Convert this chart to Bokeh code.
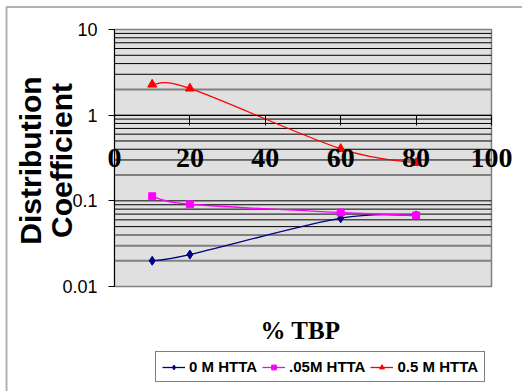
import numpy as np
from bokeh.plotting import figure
from bokeh.models import (Range1d, FixedTicker, Legend, LegendItem, LinearAxis,
                          LogAxis, CustomJSTickFormatter, Label, BoxAnnotation)
from bokeh.embed import file_html
from bokeh.resources import INLINE

# ---- data ----
tbp = [10, 20, 60, 80]
d_0M = [0.0200, 0.0236, 0.0627, 0.0675]
d_005M = [0.113, 0.0912, 0.0731, 0.0675]
d_05M = [2.28, 2.05, 0.405, 0.278]
series_names = ["0 M HTTA", ".05M HTTA", "0.5 M HTTA"]
series_values = [d_0M, d_005M, d_05M]
colors = ["#000080", "#FF00FF", "#FF0000"]
markers = ["diamond", "square", "triangle"]
marker_sizes = [9, 7, 9]
x_ticks = [0, 20, 40, 60, 80, 100]
y_ticks = [0.01, 0.1, 1, 10]
y_minor = [m * 10.0 ** e for e in (-2, -1, 0) for m in range(2, 10)]
gray_grid = [2, 0.2, 0.04, 0.03, 0.02]

# ---- layout (pixels inside the canvas) ----
W, H = 522, 391
FW, FH = W, H                      # frame fills the canvas
X0_PX, X100_PX = 114, 491          # where x = 0 and x = 100 fall
Y10_PX, Y001_PX = 29, 286          # where y = 10 and y = 0.01 fall (from top)
ppu = (X100_PX - X0_PX) / (x_ticks[-1] - x_ticks[0])
ppd = (Y001_PX - Y10_PX) / (np.log10(y_ticks[-1]) - np.log10(y_ticks[0]))
x_rng = Range1d(x_ticks[0] - X0_PX / ppu, x_ticks[0] + (FW - X0_PX) / ppu)
y_rng = Range1d(10 ** (np.log10(y_ticks[0]) - (FH - Y001_PX) / ppd),
                10 ** (np.log10(y_ticks[-1]) + Y10_PX / ppd))

p = figure(width=W, height=H, x_range=x_rng, y_range=y_rng, y_axis_type="log",
           x_axis_location=None, y_axis_location=None,
           output_backend="svg", toolbar_location=None,
           min_border_left=0, min_border_right=0, min_border_top=0,
           min_border_bottom=0)
p.background_fill_color = "white"
p.border_fill_color = "white"
p.outline_line_color = None
p.grid.visible = False

# outer chart-area frame (its right and bottom sides fall outside the picture)
p.add_layout(BoxAnnotation(left=6, right=FW + 20, bottom=-20, top=FH - 6.5,
                           left_units="screen", right_units="screen",
                           bottom_units="screen", top_units="screen",
                           fill_alpha=0, line_color="black", line_width=2,
                           level="underlay"))

# plot area
p.quad(left=x_ticks[0], right=x_ticks[-1], bottom=y_ticks[0], top=y_ticks[-1],
       fill_color="#e0e0e0", line_color="#808080", line_width=1.5)
black_lines = [v for v in y_minor + y_ticks[1:-1] if v not in gray_grid]
p.segment(x0=x_ticks[0], x1=x_ticks[-1], y0=black_lines, y1=black_lines,
          line_color="black", line_width=1)
p.segment(x0=x_ticks[0], x1=x_ticks[-1], y0=gray_grid, y1=gray_grid,
          line_color="#808080", line_width=2)

# y axis
yax = LogAxis(fixed_location=x_ticks[0], bounds=(y_ticks[0], y_ticks[-1]),
              ticker=FixedTicker(ticks=y_ticks),
              formatter=CustomJSTickFormatter(code="return tick.toString();"),
              major_tick_out=6, major_tick_in=0, minor_tick_out=0, minor_tick_in=0,
              axis_line_color="black", major_tick_line_color="black",
              major_label_standoff=11, major_label_text_font="Liberation Sans",
              major_label_text_font_size="18px", major_label_text_color="black")
p.add_layout(yax, "left")

# x axis crossing at y = 1
xax = LinearAxis(fixed_location=1, bounds=(x_ticks[0], x_ticks[-1]),
                 ticker=FixedTicker(ticks=x_ticks),
                 major_tick_out=10, major_tick_in=0, minor_tick_out=0, minor_tick_in=0,
                 axis_line_color="black", major_tick_line_color="black",
                 major_label_standoff=24, major_label_text_font="Liberation Serif",
                 major_label_text_font_style="bold", major_label_text_font_size="28px",
                 major_label_text_color="black")
p.add_layout(xax, "below")


def smooth(xs, ys):
    P = np.column_stack([np.array(xs, float), np.log10(np.array(ys, float))])
    n = len(P)
    out = {k: [] for k in ("x0", "y0", "x1", "y1", "cx0", "cy0", "cx1", "cy1")}
    for i in range(n - 1):
        pm, a, b, pn = P[max(i - 1, 0)], P[i], P[i + 1], P[min(i + 2, n - 1)]
        c0 = a + (b - pm) / 6.0
        c1 = b - (pn - a) / 6.0
        out["x0"].append(a[0]); out["y0"].append(10 ** a[1])
        out["x1"].append(b[0]); out["y1"].append(10 ** b[1])
        out["cx0"].append(c0[0]); out["cy0"].append(10 ** c0[1])
        out["cx1"].append(c1[0]); out["cy1"].append(10 ** c1[1])
    return out


items = []
for name, vals, col, mk, ms in zip(series_names, series_values, colors, markers, marker_sizes):
    s = smooth(tbp, vals)
    br = p.bezier(x0=s["x0"], y0=s["y0"], x1=s["x1"], y1=s["y1"],
                  cx0=s["cx0"], cy0=s["cy0"], cx1=s["cx1"], cy1=s["cy1"],
                  line_color=col, line_width=1.3)
    sr = p.scatter(tbp, vals, marker=mk, size=ms, fill_color=col, line_color=col)
    items.append(LegendItem(label=name, renderers=[br, sr]))

# axis titles (screen units measured from the frame's bottom-left)
for txt, xx in (("Distribution", 29.5), ("Coefficient", 60.5)):
    p.add_layout(Label(x=xx, y=FH - 160, x_units="screen", y_units="screen", text=txt,
                       angle=np.pi / 2, text_align="center", text_baseline="middle",
                       text_font="Liberation Sans", text_font_style="bold",
                       text_font_size="30px", text_color="black"))
p.add_layout(Label(x=300, y=FH - 329.5, x_units="screen", y_units="screen", text="% TBP",
                   text_align="center", text_baseline="middle",
                   text_font="Liberation Serif", text_font_style="bold",
                   text_font_size="25px", text_color="black"))

legend = Legend(items=items, orientation="horizontal", location=(155, FH - 382),
                label_text_font="Liberation Sans", label_text_font_style="bold",
                label_text_font_size="15px", label_text_color="black",
                glyph_width=23, glyph_height=12, label_standoff=4, spacing=5,
                padding=6, margin=0, border_line_color="black", border_line_width=1,
                background_fill_color="white", background_fill_alpha=1)
p.add_layout(legend, "center")

open("out.html", "w").write(file_html(p, INLINE))
